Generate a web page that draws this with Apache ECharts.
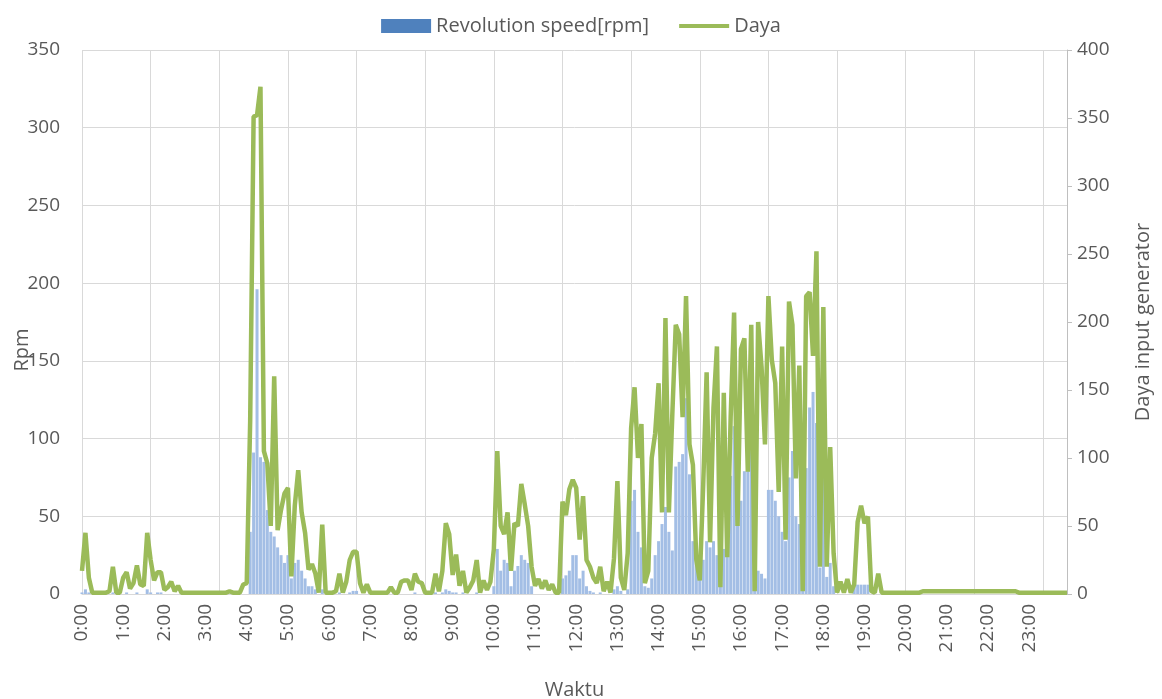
<!DOCTYPE html>
<html>
<head>
<meta charset="utf-8">
<script src="https://cdn.jsdelivr.net/npm/echarts@6/dist/echarts.min.js"></script>
<style>
  html, body { margin: 0; padding: 0; background: #fff; }
  #container { width: 1162px; height: 699px; }
</style>
</head>
<body>
<div id="container"></div>
<script>
// time labels, one every 5 minutes over the day
var times = [];
for (var h = 0; h < 24; h++) {
  for (var m = 0; m < 60; m += 5) {
    times.push(h + ':' + (m < 10 ? '0' + m : m));
  }
}

// Revolution speed [rpm], 5-minute steps
var rpm = [
  1,3,1,0,0,0,0,0,0,1,0,0,
  0,1,0,0,1,0,0,3,1,0,1,1,
  0,0,0,0,0,0,0,0,0,0,0,0,
  0,0,0,0,0,0,0,0,0,0,0,0,
  0,40,91,196,88,85,54,40,37,30,25,20,
  25,10,20,22,15,10,5,5,3,0,3,0,
  0,0,0,1,0,0,1,2,2,0,0,0,
  0,0,0,0,0,0,0,0,0,0,0,0,
  0,1,0,0,0,0,0,1,0,1,3,2,
  1,1,0,1,0,0,0,1,0,0,0,0,
  5,29,15,22,20,5,15,18,25,22,20,5,
  0,0,0,0,0,0,0,0,10,12,15,25,
  25,10,15,5,2,1,0,1,0,0,0,3,
  5,2,0,3,60,67,40,30,5,4,10,25,
  34,45,56,40,28,82,85,90,126,77,34,25,
  10,22,34,30,34,25,15,29,30,76,108,95,
  60,79,110,123,40,15,13,10,67,67,60,50,
  40,34,75,92,50,45,30,81,120,130,110,17,
  85,11,20,5,0,0,0,0,0,6,6,6,
  6,6,0,0,0,0,0,0,0,0,0,0,
  0,0,0,0,0,0,0,0,0,0,0,0,
  0,0,0,0,0,0,0,0,0,0,0,0,
  0,0,0,0,0,0,0,0,0,0,0,0,
  0,0,0,0,0,0,0,0,0,0,0,0
];

// Daya input generator, same time steps
var daya = [
  17,45,12,1,1,1,1,1,2,20,1,1,
  12,16,4,8,21,7,6,45,25,10,16,16,
  3,5,9,2,6,1,1,1,1,1,1,1,
  1,1,1,1,1,1,1,2,1,1,1,7,
  8,127,351,352,373,105,96,50,160,47,62,74,
  78,13,65,91,60,45,18,22,15,1,51,1,
  1,1,2,15,1,9,25,31,31,8,1,7,
  1,1,1,1,1,1,5,1,1,9,10,10,
  3,15,9,8,1,1,1,15,2,17,52,44,
  14,29,6,17,1,5,10,25,1,10,3,9,
  33,105,50,44,60,17,52,50,81,66,50,20,
  6,11,4,10,3,7,1,1,68,58,77,84,
  78,40,72,25,20,12,8,20,2,9,1,26,
  83,12,3,30,122,152,100,125,8,17,100,118,
  155,60,203,60,132,198,191,130,219,110,95,25,
  10,80,163,38,137,182,5,148,27,130,207,50,
  180,188,90,198,2,200,167,110,219,172,155,75,
  182,40,215,198,85,168,2,219,222,175,252,20,
  211,20,108,30,1,9,1,11,1,7,53,65,
  52,57,2,1,15,1,1,1,1,1,1,1,
  1,1,1,1,1,2,2,2,2,2,2,2,
  2,2,2,2,2,2,2,2,2,2,2,2,
  2,2,2,2,2,2,2,2,2,1,1,1,
  1,1,1,1,1,1,1,1,1,1,1,1
];

var font = 'Open Sans';
var textColor = '#595959';
var gridColor = '#D9D9D9';

var myChart = echarts.init(document.getElementById('container'));

var option = {
  animation: false,
  textStyle: { fontFamily: font },
  legend: {
    top: 11,
    left: 'center',
    itemWidth: 50,
    itemHeight: 14,
    itemGap: 30,
    textStyle: { fontFamily: font, fontSize: 20, color: textColor },
    data: [
      { name: 'Revolution speed[rpm]', icon: 'rect', itemStyle: { color: '#4F81BD' } },
      { name: 'Daya', icon: 'path://M0,0 L50,0 L50,4 L0,4 Z', itemStyle: { color: '#9BBB59' } }
    ]
  },
  grid: { left: 82, right: 95, top: 50, bottom: 105, outerBoundsMode: 'none', containLabel: false },
  xAxis: {
    type: 'category',
    data: times,
    boundaryGap: false,
    name: 'Waktu',
    nameLocation: 'middle',
    nameGap: 86,
    nameMoveOverlap: false,
    nameTextStyle: { fontFamily: font, fontSize: 20, color: textColor },
    axisLine: { lineStyle: { color: gridColor } },
    axisTick: { show: false },
    axisLabel: { interval: 11, rotate: 90, fontSize: 19, color: textColor, margin: 10 },
    splitLine: { show: true, interval: 19, lineStyle: { color: gridColor, width: 1 } }
  },
  yAxis: [
    {
      type: 'value',
      min: 0, max: 350, interval: 50,
      name: 'Rpm',
      nameLocation: 'middle',
      nameGap: 50,
      nameMoveOverlap: false,
      nameTextStyle: { fontFamily: font, fontSize: 20, color: textColor, padding: [0, 56, 0, 0] },
      axisLine: { show: false },
      axisTick: { show: false },
      axisLabel: { fontSize: 19, color: textColor, margin: 22 },
      splitLine: { lineStyle: { color: gridColor, width: 1 } }
    },
    {
      type: 'value',
      min: 0, max: 400, interval: 50,
      name: 'Daya input generator',
      nameLocation: 'middle',
      nameGap: 66,
      nameMoveOverlap: false,
      nameTextStyle: { fontFamily: font, fontSize: 20, color: textColor },
      axisLine: { show: true, lineStyle: { color: '#BFBFBF' } },
      axisTick: { show: true, length: 5, lineStyle: { color: '#BFBFBF' } },
      axisLabel: { fontSize: 19, color: textColor, margin: 10 },
      splitLine: { show: false }
    }
  ],
  series: [
    {
      name: 'Revolution speed[rpm]',
      type: 'bar',
      data: rpm,
      barWidth: 3,
      itemStyle: { color: '#A3BEE5' }
    },
    {
      name: 'Daya',
      type: 'line',
      yAxisIndex: 1,
      data: daya,
      showSymbol: false,
      symbol: 'none',
      lineStyle: { color: '#9BBB59', width: 4.5 },
      itemStyle: { color: '#9BBB59' }
    }
  ]
};

option && myChart.setOption(option);
</script>
</body>
</html>
